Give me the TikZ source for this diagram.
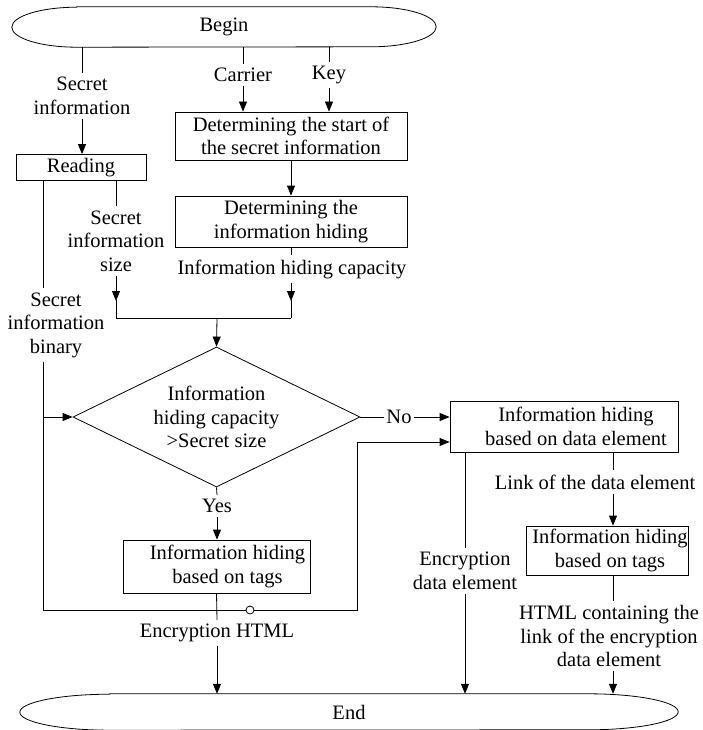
\documentclass[tikz,border=0pt]{standalone}
\usepackage{fontspec}
\setmainfont{Liberation Serif}
\usetikzlibrary{arrows.meta,shapes.geometric}
\begin{document}
\begin{tikzpicture}[x=1pt,y=-1pt,
  every node/.style={font=\fontsize{20.5}{23.5}\selectfont},
  line/.style={line width=0.8pt},
  arr/.style={line, -{Triangle[length=10pt,width=8pt]}},
  box/.style={draw, line width=0.8pt, inner sep=0pt},
  lbl/.style={align=center, inner xsep=2pt, inner ysep=4pt},
  term/.style={inner sep=0pt, minimum height=40pt}]
\useasboundingbox (0,0) rectangle (703,730);

% start and end terminals (flat ovals)
\node[term, minimum width=424pt] (begin) at (224,27) {Begin};
\draw[line] ([xshift=65pt]begin.north west) -- ([xshift=-65pt]begin.north east)
  arc[start angle=90, end angle=-90, x radius=65pt, y radius=20pt]
  -- ([xshift=65pt]begin.south west)
  arc[start angle=270, end angle=90, x radius=65pt, y radius=20pt] -- cycle;
\node[term, minimum width=658pt, minimum height=36pt] (end) at (349,712) {End};
\draw[line] ([xshift=90pt]end.north west) -- ([xshift=-90pt]end.north east)
  arc[start angle=90, end angle=-90, x radius=90pt, y radius=18pt]
  -- ([xshift=90pt]end.south west)
  arc[start angle=270, end angle=90, x radius=90pt, y radius=18pt] -- cycle;

% process boxes
\node[box, minimum width=130pt, minimum height=26pt] (reading) at (81,167.5) {Reading};
\node[box, minimum width=232pt, minimum height=48pt, align=center] (start) at (291,136)
  {Determining the start of\\the secret information};
\node[box, minimum width=232pt, minimum height=51pt, align=center] (hiding) at (291,221.5)
  {Determining the\\information hiding};
\node[diamond, draw, line width=0.8pt, inner sep=0pt, shape aspect=2.05,
  minimum width=287pt, minimum height=140pt, align=center] (dec) at (216.5,417)
  {Information\\hiding capacity\\>Secret size};
\node[box, minimum width=187pt, minimum height=53pt,
  label={[lbl, xshift=11pt]center:Information hiding\\based on tags}] (lt) at (216.5,566.5) {};
\node[box, minimum width=228pt, minimum height=51pt,
  label={[lbl, xshift=12pt]center:Information hiding\\based on data element}] (data) at (564,426.5) {};
\node[box, minimum width=162pt, minimum height=49pt,
  label={[lbl, xshift=3pt]center:Information hiding\\based on tags}] (rt) at (607,550.5) {};

% connector labels
\node[lbl] (si) at (82,96) {Secret\\information};
\node[lbl] (carrier) at (243,75) {Carrier};
\node[lbl] (key) at (329,75) {Key};
\node[lbl] (sis) at (116,241) {Secret\\information\\size};
\node[lbl] (cap) at (292,269) {Information hiding capacity};
\node[lbl] (sib) at (56,325) {Secret\\information\\binary};
\node[lbl] (no) at (399,417) {No};
\node[lbl] (yes) at (217,506) {Yes};
\node[lbl] (ehtml) at (217,633) {Encryption HTML};
\node[lbl] (ede) at (465,571) {Encryption\\data element};
\node[lbl] (link) at (595,482) {Link of the data element};
\node[lbl] (htm) at (609,636) {HTML containing the\\link of the encryption\\data element};

% junction points
\coordinate (binx) at (43,0);
\coordinate (sizex) at (116,0);
\coordinate (rx) at (613,0);
\coordinate (join) at (217,318);
\coordinate (busL) at (43,610);
\coordinate (busR) at (357,610);
\coordinate (in2) at ([yshift=-15.5pt]data.west);

% top inputs
\draw[line] (si.north |- begin.south) -- (si.north);
\draw[arr] (si.south) -- (si.south |- reading.north);
\draw[line] (carrier.north |- begin.south) -- (carrier.north);
\draw[arr] (carrier.south) -- (carrier.south |- start.north);
\draw[line] (key.north |- begin.south) -- (key.north);
\draw[arr] (key.south) -- (key.south |- start.north);
\draw[arr] (start.south) -- (hiding.north);

% sizes merged into the decision
\draw[line] (sizex |- reading.south) -- (sizex |- sis.north);
\draw[arr] (sizex |- sis.south) -- (sizex |- 0,301);
\draw[line] (sizex |- 0,300) -- (sizex |- join) -- (join -| hiding.south);
\draw[line] (hiding.south) -- (cap.north -| hiding.south);
\draw[arr] (cap.south -| hiding.south) -- (hiding.south |- 0,301);
\draw[line] (hiding.south |- 0,300) -- (hiding.south |- join);
\draw[arr] (join) -- (dec.north);

% binary stream
\draw[line] (binx |- reading.south) -- (binx |- sib.north);
\draw[arr] (binx |- dec.west) -- (dec.west);
\draw[arr] (binx |- sib.south) -- (busL) -- (busR) -- (busR |- in2) -- (in2);

% decision branches
\draw[line] (dec.east) -- (no.west);
\draw[arr] (no.east) -- (no.east -| data.west);
\draw[line] (dec.south) -- (yes.north);
\draw[arr] (yes.south) -- (yes.south |- lt.north);
\draw[line] (lt.south) -- (ehtml.north);
\draw[arr] (ehtml.south) -- (ehtml.south |- end.north);
\node[circle, draw, line width=0.8pt, fill=white, minimum size=8pt, inner sep=0pt] (hop) at (250,610) {};

% data element branch
\draw[line] (ede.north |- data.south) -- (ede.north);
\draw[arr] (ede.south) -- (ede.south |- end.north);
\draw[line] (rx |- data.south) -- (rx |- link.north);
\draw[arr] (rx |- link.south) -- (rx |- rt.north);
\draw[line] (rx |- rt.south) -- (rx |- htm.north);
\draw[arr] (rx |- htm.south) -- (rx |- end.north);
\end{tikzpicture}
\end{document}
